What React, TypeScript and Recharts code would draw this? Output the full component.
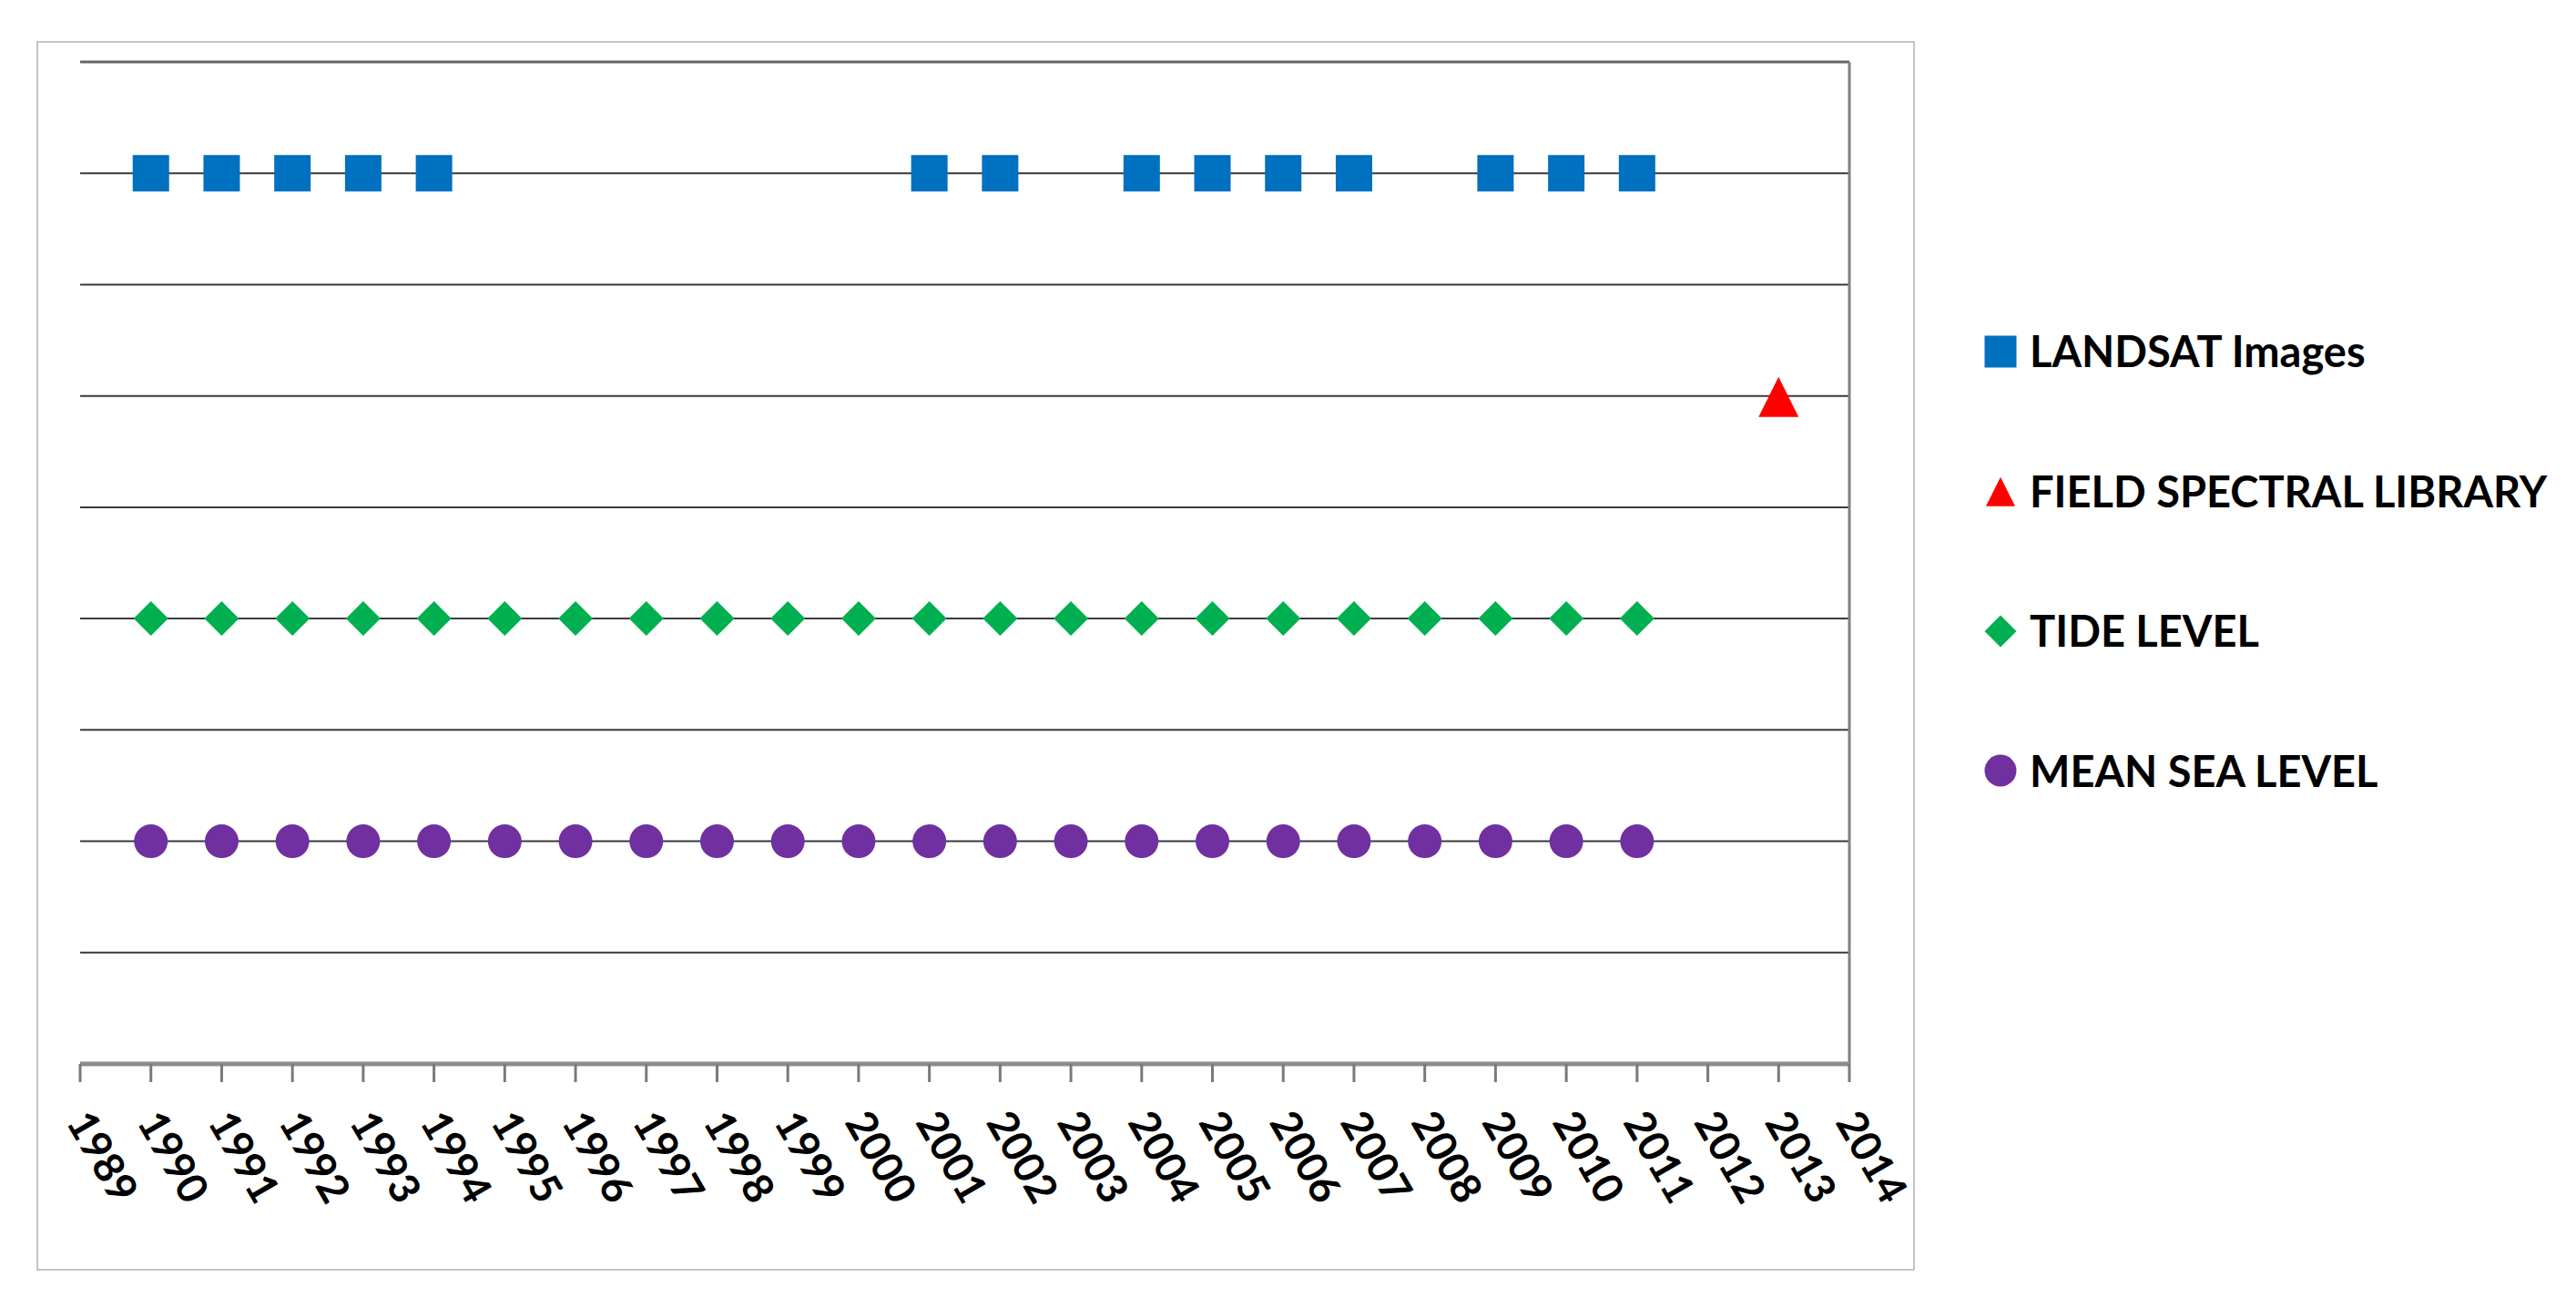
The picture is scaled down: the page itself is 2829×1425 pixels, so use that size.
import { ScatterChart, Scatter, XAxis, YAxis, ReferenceLine, Legend } from "recharts";

// x axis: one tick per year
const yearTicks = [
  1989, 1990, 1991, 1992, 1993, 1994, 1995, 1996, 1997, 1998, 1999, 2000, 2001,
  2002, 2003, 2004, 2005, 2006, 2007, 2008, 2009, 2010, 2011, 2012, 2013, 2014,
];
// y axis is only used for the horizontal rows
const levelTicks = [0, 1, 2, 3, 4, 5, 6, 7, 8, 9];
const gridLevels = [1, 2, 3, 4, 5, 6, 7, 8];

const landsatYears = [1990, 1991, 1992, 1993, 1994, 2001, 2002, 2004, 2005, 2006, 2007, 2009, 2010, 2011];
const fieldSpectralYears = [2013];
const tideYears = [
  1990, 1991, 1992, 1993, 1994, 1995, 1996, 1997, 1998, 1999, 2000,
  2001, 2002, 2003, 2004, 2005, 2006, 2007, 2008, 2009, 2010, 2011,
];
const meanSeaYears = [
  1990, 1991, 1992, 1993, 1994, 1995, 1996, 1997, 1998, 1999, 2000,
  2001, 2002, 2003, 2004, 2005, 2006, 2007, 2008, 2009, 2010, 2011,
];

const seriesNames = ["LANDSAT Images", "FIELD SPECTRAL LIBRARY", "TIDE LEVEL", "MEAN SEA LEVEL"];
const seriesLevels = [8, 6, 4, 2];
const seriesYears = [landsatYears, fieldSpectralYears, tideYears, meanSeaYears];
const seriesColors = ["#0070C0", "#FF0000", "#00B050", "#7030A0"];
const seriesShapes = ["square", "triangle", "diamond", "circle"];

const FONT = "Lato, 'Open Sans', sans-serif";

const series = seriesNames.map((name, i) => ({
  name,
  color: seriesColors[i],
  kind: seriesShapes[i],
  data: seriesYears[i].map((year) => ({ year, level: seriesLevels[i] })),
}));

function Marker({ kind, cx, cy, size, color }: { kind: string; cx: number; cy: number; size: number; color: string }) {
  const h = size / 2;
  if (kind === "square") {
    return <rect x={cx - h} y={cy - h} width={size} height={size} fill={color} />;
  }
  if (kind === "triangle") {
    return (
      <polygon
        points={`${cx},${cy - h * 0.95} ${cx + h},${cy + h * 1.05} ${cx - h},${cy + h * 1.05}`}
        fill={color}
      />
    );
  }
  if (kind === "diamond") {
    return <polygon points={`${cx},${cy - h} ${cx + h},${cy} ${cx},${cy + h} ${cx - h},${cy}`} fill={color} />;
  }
  return <circle cx={cx} cy={cy} r={h} fill={color} />;
}

const markerSizes: Record<string, number> = { square: 40, triangle: 44, diamond: 38, circle: 37 };

function YearTick({ x, y, payload }: any) {
  return (
    <g transform={`translate(${x - 16},${y + 44})`}>
      <text
        transform="rotate(60)"
        textAnchor="start"
        fontFamily={FONT}
        fontWeight={700}
        fontSize={46}
        fill="#000"
      >
        {payload.value}
      </text>
    </g>
  );
}

function renderLegend() {
  return (
    <div style={{ display: "flex", flexDirection: "column" }}>
      {series.map((s) => (
        <div key={s.name} style={{ height: 153.5, display: "flex", alignItems: "center" }}>
          <svg width={36} height={36} style={{ marginRight: 14, flex: "none" }}>
            <Marker kind={s.kind} cx={18} cy={18} size={s.kind === "triangle" ? 32 : 35} color={s.color} />
          </svg>
          <span
            style={{
              fontFamily: FONT,
              fontWeight: 700,
              fontSize: 47,
              color: "#000",
              whiteSpace: "nowrap",
              lineHeight: 1,
            }}
          >
            {s.name}
          </span>
        </div>
      ))}
    </div>
  );
}

export default function App() {
  return (
    <div style={{ position: "absolute", left: 0, top: 0, width: 2829, height: 1425, background: "#fff" }}>
      <div
        style={{
          position: "absolute",
          left: 40,
          top: 45,
          width: 2063,
          height: 1350,
          border: "2px solid #c4c4c4",
          boxSizing: "border-box",
        }}
      />
      <div style={{ position: "absolute", left: 0, top: 0 }}>
        <ScatterChart width={2829} height={1425} margin={{ top: 68, right: 798, bottom: 0, left: 88 }}>
          <XAxis
            type="number"
            dataKey="year"
            domain={[1989, 2014]}
            ticks={yearTicks}
            interval={0}
            height={257}
            tickSize={20}
            tickMargin={0}
            stroke="#8a8a8a"
            axisLine={{ stroke: "#8c8c8c", strokeWidth: 5 }}
            tickLine={{ stroke: "#7a7a7a", strokeWidth: 3 }}
            tick={<YearTick />}
          />
          <YAxis
            type="number"
            dataKey="level"
            domain={[0, 9]}
            ticks={levelTicks}
            width={0}
            tick={false}
            tickLine={false}
            axisLine={{ stroke: "#707070", strokeWidth: 3 }}
          />
          {gridLevels.map((v) => (
            <ReferenceLine key={v} y={v} stroke="#3a3a3a" strokeWidth={2} />
          ))}
          <ReferenceLine y={9} stroke="#666666" strokeWidth={3} />
          <ReferenceLine x={2014} stroke="#808080" strokeWidth={3} />
          <Legend
            layout="vertical"
            align="center"
            verticalAlign="middle"
            content={renderLegend}
            wrapperStyle={{ left: 2179, top: 309, width: 640 }}
          />
          {series.map((s) => (
            <Scatter
              key={s.name}
              name={s.name}
              data={s.data}
              fill={s.color}
              isAnimationActive={false}
              shape={(props: any) => (
                <Marker kind={s.kind} cx={props.cx} cy={props.cy} size={markerSizes[s.kind]} color={s.color} />
              )}
            />
          ))}
        </ScatterChart>
      </div>
    </div>
  );
}
